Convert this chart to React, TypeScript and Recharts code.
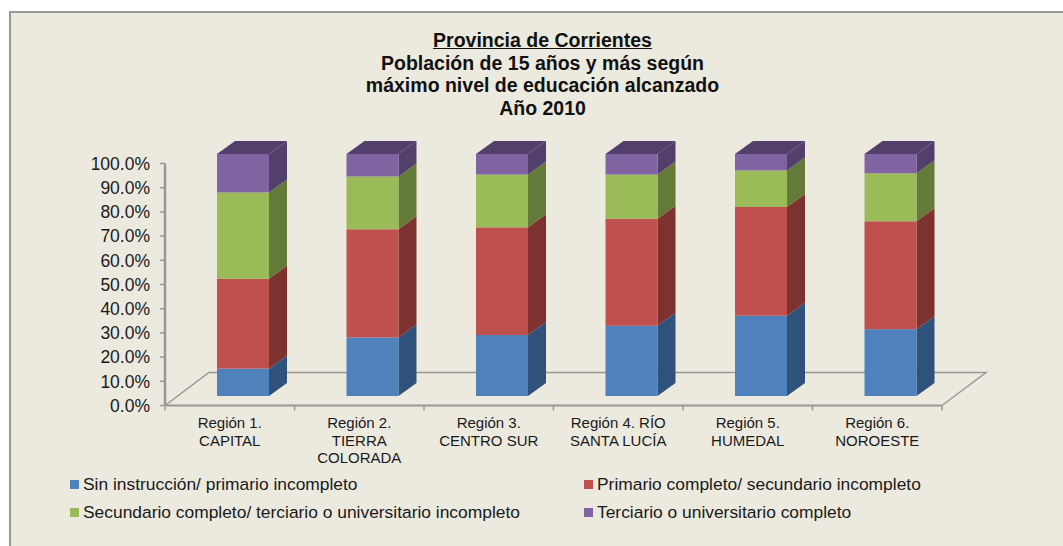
import React from 'react';
import { BarChart, Bar, XAxis, YAxis, Legend, usePlotArea } from 'recharts';

const regionNames = [
  ['Región 1.', 'CAPITAL'],
  ['Región 2.', 'TIERRA', 'COLORADA'],
  ['Región 3.', 'CENTRO SUR'],
  ['Región 4. RÍO', 'SANTA LUCÍA'],
  ['Región 5.', 'HUMEDAL'],
  ['Región 6.', 'NOROESTE'],
];
const sinInstruccion = [11.3, 24.2, 25.2, 29.0, 33.2, 27.6];
const primarioCompleto = [37.1, 44.7, 44.5, 44.2, 44.9, 44.6];
const secundarioCompleto = [35.7, 21.8, 21.8, 18.3, 15.1, 19.8];
const terciarioCompleto = [15.9, 9.3, 8.5, 8.5, 6.8, 8.0];
const yTicks = [0, 10, 20, 30, 40, 50, 60, 70, 80, 90, 100];
const titleLines = [
  'Provincia de Corrientes',
  'Población de 15 años y más según',
  'máximo nivel de educación alcanzado',
  'Año 2010',
];

const chartData = regionNames.map((lines, i) => ({
  name: lines.join(' '),
  sin: sinInstruccion[i],
  prim: primarioCompleto[i],
  sec: secundarioCompleto[i],
  ter: terciarioCompleto[i],
}));

const series = [
  { key: 'sin', name: 'Sin instrucción/ primario incompleto', front: '#4F81BD', side: '#2F527C' },
  { key: 'prim', name: 'Primario completo/ secundario incompleto', front: '#C0504D', side: '#7E3230' },
  { key: 'sec', name: 'Secundario completo/ terciario o universitario incompleto', front: '#9BBB59', side: '#647A38' },
  { key: 'ter', name: 'Terciario o universitario completo', front: '#8064A2', side: '#523F6B' },
];

const FONT = '"Liberation Sans", Arial, sans-serif';
const AXIS_COLOR = '#9A9892';
// pseudo 3D: bars sit this far in from the front edge of the floor
const LIFT_X = 13;
const LIFT_Y = 9.5;
const DEPTH_X = 18;
const DEPTH_Y = 13;
const FLOOR_X = 44;
const FLOOR_Y = 33;

const Box3D = (props: any) => {
  const { x, y, width, height, front, side, isTop } = props;
  const l = x + LIFT_X;
  const r = l + width;
  const t = y - LIFT_Y;
  const b = t + height;
  return (
    <g>
      <polygon
        points={`${r},${t} ${r + DEPTH_X},${t - DEPTH_Y} ${r + DEPTH_X},${b - DEPTH_Y} ${r},${b}`}
        fill={side}
      />
      {isTop && (
        <polygon
          points={`${l},${t} ${l + DEPTH_X},${t - DEPTH_Y} ${r + DEPTH_X},${t - DEPTH_Y} ${r},${t}`}
          fill={side}
        />
      )}
      <rect x={l} y={t} width={width} height={height} fill={front} />
    </g>
  );
};

const Floor = () => {
  const plot = usePlotArea();
  if (!plot) return null;
  const { x, y, width, height } = plot;
  const bottom = y + height;
  const right = x + width;
  const step = width / regionNames.length;
  return (
    <g fill="none" stroke={AXIS_COLOR} strokeWidth={1.5}>
      <polyline
        points={`${x},${bottom} ${x + FLOOR_X},${bottom - FLOOR_Y} ${right + FLOOR_X},${bottom - FLOOR_Y} ${right},${bottom}`}
      />
      {regionNames.map((_, i) => (
        <line key={i} x1={x + step * i} x2={x + step * i} y1={bottom} y2={bottom + 5} />
      ))}
      <line x1={right} x2={right} y1={bottom} y2={bottom + 5} />
    </g>
  );
};

const RegionTick = (props: any) => {
  const { x, y, index } = props;
  return (
    <text x={x} y={y + 14.5} textAnchor="middle" fontFamily={FONT} fontSize={15} fill="#1a1a1a">
      {regionNames[index].map((line, i) => (
        <tspan key={i} x={x} dy={i === 0 ? 0 : 17.5}>
          {line}
        </tspan>
      ))}
    </text>
  );
};

const LegendBlock = () => (
  <div style={{ position: 'relative', width: 1063, height: 70, fontFamily: FONT, fontSize: 17.4, color: '#1a1a1a' }}>
    {series.map((s, i) => (
      <div
        key={s.key}
        style={{
          position: 'absolute',
          left: i % 2 === 0 ? 70 : 584,
          top: i < 2 ? 0 : 28,
          display: 'flex',
          alignItems: 'center',
          height: 20,
          whiteSpace: 'nowrap',
        }}
      >
        <span style={{ width: 9, height: 9, background: s.front, marginRight: 4 }} />
        {s.name}
      </div>
    ))}
  </div>
);

export default function App() {
  return (
    <div style={{ position: 'absolute', left: 0, top: 0, width: 1063, height: 546, background: '#fff', overflow: 'hidden' }}>
      <div
        style={{
          position: 'absolute',
          left: 9,
          top: 11,
          width: 1100,
          height: 600,
          background: '#ECE9DF',
          border: `2px solid #999893`,
        }}
      />
      <div
        style={{
          position: 'absolute',
          left: 0,
          top: 29,
          width: 1085,
          textAlign: 'center',
          fontFamily: FONT,
          fontWeight: 'bold',
          fontSize: 19.5,
          lineHeight: '22.7px',
          color: '#111',
        }}
      >
        {titleLines.map((line, i) => (
          <div key={i} style={{ textDecoration: i === 0 ? 'underline' : 'none' }}>
            {line}
          </div>
        ))}
      </div>
      <div style={{ position: 'absolute', left: 0, top: 0 }}>
        <BarChart
          width={1063}
          height={546}
          data={chartData}
          stackOffset="none"
          barSize={52}
          margin={{ left: 85, right: 121, top: 163.5, bottom: 40.5 }}
        >
          <Floor />
          <XAxis
            dataKey="name"
            height={30}
            interval={0}
            tick={<RegionTick />}
            tickLine={false}
            axisLine={{ stroke: AXIS_COLOR, strokeWidth: 2 }}
          />
          <YAxis
            width={80}
            domain={[0, 100]}
            ticks={yTicks}
            interval={0}
            tickFormatter={(v: number) => `${v.toFixed(1)}%`}
            tick={{ fontFamily: FONT, fontSize: 17.5, fill: '#1a1a1a' }}
            tickLine={{ stroke: AXIS_COLOR, strokeWidth: 1.5 }}
            tickSize={5}
            tickMargin={10}
            axisLine={{ stroke: AXIS_COLOR, strokeWidth: 2.5 }}
          />
          {series.map((s, i) => (
            <Bar
              key={s.key}
              dataKey={s.key}
              name={s.name}
              stackId="total"
              isAnimationActive={false}
              fill={s.front}
              shape={<Box3D front={s.front} side={s.side} isTop={i === series.length - 1} />}
            />
          ))}
          <Legend
            content={<LegendBlock />}
            wrapperStyle={{ position: 'absolute', left: 0, top: 474, width: 1063 }}
          />
        </BarChart>
      </div>
    </div>
  );
}
